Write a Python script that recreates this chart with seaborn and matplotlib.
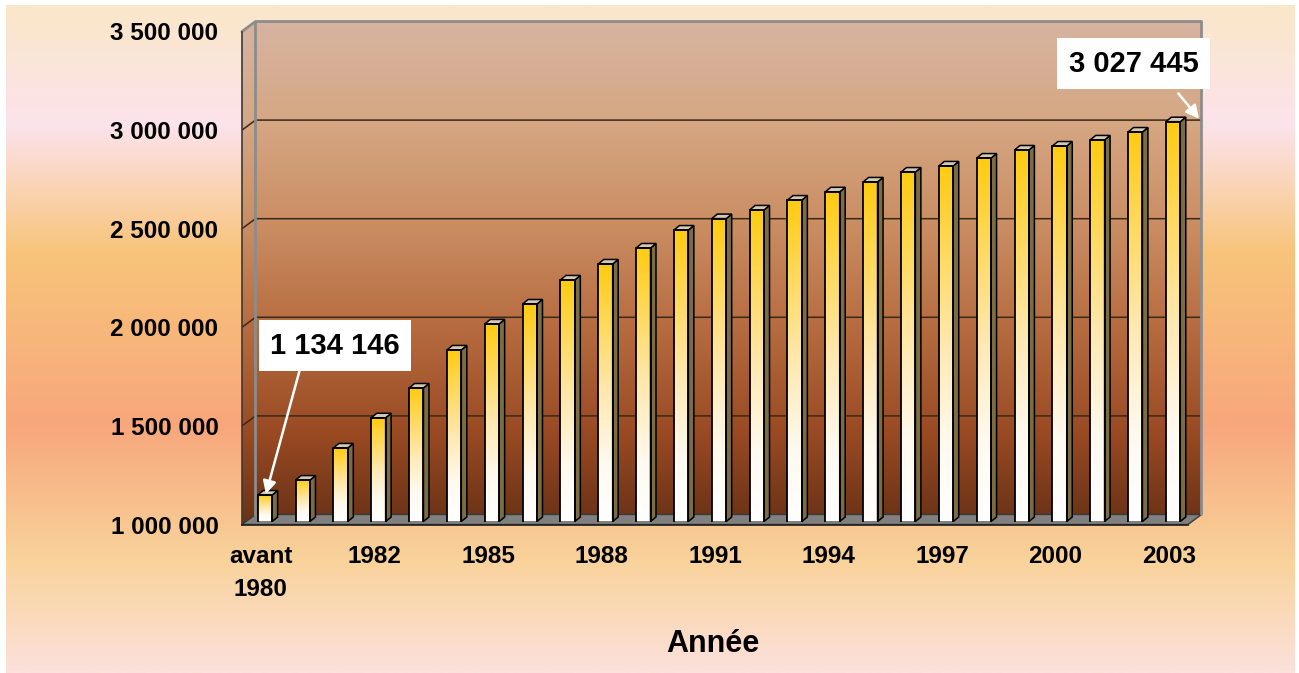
import numpy as np
import pandas as pd
import matplotlib
matplotlib.use("Agg")
import matplotlib.pyplot as plt
import matplotlib.transforms as mtransforms
from matplotlib.colors import LinearSegmentedColormap
from matplotlib.patches import Polygon
import seaborn as sns

# ---- data -------------------------------------------------------------
categories = ["avant\n1980"] + [str(y) for y in range(1980, 2004)]
values = [1134146, 1210000, 1373000, 1526000, 1677000, 1870000, 2002000,
          2103000, 2225000, 2306000, 2387000, 2478000, 2536000, 2580000,
          2630000, 2672000, 2722000, 2772000, 2803000, 2843000, 2884000,
          2904000, 2935000, 2975000, 3027445]
y_ticks = [1000000, 1500000, 2000000, 2500000, 3000000, 3500000]
y_tick_labels = ["1 000 000", "1 500 000", "2 000 000",
                 "2 500 000", "3 000 000", "3 500 000"]
x_label_idx = list(range(0, len(categories), 3))
callout_idx = [0, 24]
x_title = "Année"


def fmt(v):
    return f"{v:,}".replace(",", " ")


sns.set_style("white")
plt.rcParams["font.family"] = ["Liberation Sans", "DejaVu Sans"]
plt.rcParams["font.weight"] = "bold"
plt.rcParams["text.color"] = "black"
plt.rcParams["xtick.labelcolor"] = "black"
plt.rcParams["ytick.labelcolor"] = "black"

W, H = 1299, 673
fig = plt.figure(figsize=(W / 100, H / 100), dpi=100)
fig.patch.set_facecolor("white")


def rect(x0, top, x1, bottom):
    """Axes rectangle from pixel edges measured from the top-left corner."""
    return [x0 / W, (H - bottom) / H, (x1 - x0) / W, (bottom - top) / H]


FRONT = (242, 31.5, 1188, 524.5)   # front plane of the 3-D box
BACK_D = (13.5, 10.0)              # back wall offset (right, up)
BAR_D = (4.0, 3.0)                 # bars stand a little behind the front
SIDE_D = (5.5, 4.5)                # depth of each bar

# ---- page background ---------------------------------------------------
bg_cmap = LinearSegmentedColormap.from_list(
    "page", [(0.0, "#FAE7C9"), (0.18, "#FCE3EC"), (0.37, "#F8C47A"),
             (0.63, "#F7A77C"), (0.83, "#F9D29A"), (1.0, "#FCE1DC")])
ax_bg = fig.add_axes(rect(6, 5, 1295, 673), zorder=-10)
ax_bg.imshow(np.linspace(0, 1, 512)[:, None], cmap=bg_cmap, aspect="auto",
             extent=(0, 1, 0, 1), interpolation="bilinear")
ax_bg.axis("off")

# ---- decoration layer in pixel coordinates ----------------------------
ax_deco = fig.add_axes([0, 0, 1, 1], zorder=1)
ax_deco.set_xlim(0, W)
ax_deco.set_ylim(H, 0)
ax_deco.axis("off")

# ---- front axes: ticks, labels and spines ------------------------------
ax = fig.add_axes(rect(*FRONT), zorder=3)
ax.patch.set_alpha(0)
ax.set_xlim(-0.5, len(categories) - 0.5)
ax.set_ylim(y_ticks[0], y_ticks[-1])


def to_px(axes, x, y):
    dx, dy = axes.transData.transform((x, y))
    return dx, H - dy


fx0, fy0 = to_px(ax, -0.5, y_ticks[-1])
fx1, fy1 = to_px(ax, len(categories) - 0.5, y_ticks[0])
bx, by = BACK_D

# back wall + left side wall with a brown gradient
wall_cmap = LinearSegmentedColormap.from_list(
    "wall", [(0.0, "#D7B4A1"), (0.2, "#D5A783"), (0.42, "#C98B60"),
             (0.62, "#B56A3E"), (0.82, "#994A23"), (1.0, "#693216")])
wall_poly = Polygon([(fx0, fy0), (fx0 + bx, fy0 - by), (fx1 + bx, fy0 - by),
                     (fx1 + bx, fy1 - by), (fx1, fy1), (fx0, fy1)],
                    closed=True, transform=ax_deco.transData,
                    facecolor="none", edgecolor="none")
ax_deco.add_patch(wall_poly)
wall_img = ax_deco.imshow(np.linspace(0, 1, 512)[:, None], cmap=wall_cmap,
                          aspect="auto", interpolation="bilinear",
                          extent=(fx0, fx1 + bx, fy1, fy0 - by))
wall_img.set_clip_path(wall_poly)
ax_deco.set_xlim(0, W)
ax_deco.set_ylim(H, 0)

# gridlines on the back wall, joined to the front ticks
for v in y_ticks[1:-1]:
    _, yf = to_px(ax, 0, v)
    ax_deco.plot([fx0, fx0 + bx, fx1 + bx], [yf, yf - by, yf - by],
                 color="#3A2818", lw=1.1, solid_capstyle="butt")

# grey frame of the walls
ax_deco.plot([fx0, fx0 + bx, fx1 + bx, fx1 + bx],
             [fy0, fy0 - by, fy0 - by, fy1 - by], color="#8C8C8C", lw=2)
ax_deco.plot([fx0 + bx, fx0 + bx], [fy0 - by, fy1 - by], color="#8C8C8C", lw=2)

# floor
floor = Polygon([(fx0, fy1), (fx1, fy1), (fx1 + bx, fy1 - by),
                 (fx0 + bx, fy1 - by)], closed=True,
                facecolor="#808080", edgecolor="#3A3A3A", lw=1)
ax_deco.add_patch(floor)

for side in ("top", "right"):
    ax.spines[side].set_visible(False)
ax.spines["left"].set_color("#3A3A3A")
ax.spines["left"].set_linewidth(1.2)
ax.spines["bottom"].set_color("#202020")
ax.spines["bottom"].set_linewidth(1.2)

ax.set_yticks(y_ticks)
ax.set_yticklabels(y_tick_labels)
ax.tick_params(axis="y", direction="out", length=6.5, width=1.1,
               color="#333333", pad=10.5, labelsize=17.5, labelcolor="black")
ax.set_xticks(x_label_idx)
ax.set_xticklabels([categories[i] for i in x_label_idx], linespacing=1.6)
ax.set_xticks(np.arange(-0.5, len(categories), 1.0), minor=True)
ax.tick_params(axis="x", which="major", length=0, pad=14.5, labelsize=17.5,
               labelcolor="black")
ax.tick_params(axis="x", which="minor", direction="out", length=6,
               width=1.1, color="#222222")
for lab in ax.get_xticklabels() + ax.get_yticklabels():
    lab.set_fontweight("bold")
    lab.set_color("black")
ax.grid(False)

# ---- bars ---------------------------------------------------------------
ax_b = fig.add_axes(rect(FRONT[0] + BAR_D[0], FRONT[1] - BAR_D[1],
                         FRONT[2] + BAR_D[0], FRONT[3] - BAR_D[1]), zorder=4)
ax_b.patch.set_alpha(0)
df = pd.DataFrame({"Année": categories, "Valeur": values})
sns.barplot(data=df, x="Année", y="Valeur", ax=ax_b, width=0.38,
            color="#FFD21F", saturation=1, edgecolor="black",
            linewidth=1.3, errorbar=None)
ax_b.set_autoscale_on(False)
ax_b.set_xlim(-0.5, len(categories) - 0.5)
ax_b.set_ylim(y_ticks[0], y_ticks[-1])
ax_b.axis("off")

bar_cmap = LinearSegmentedColormap.from_list(
    "bar", [(0.0, "#FFFFFF"), (0.22, "#FFFAF0"), (0.5, "#FFE8B0"),
            (0.78, "#FFD857"), (1.0, "#FFCB10")])
grad = np.linspace(0, 1, 256)[:, None]
sx, sy = SIDE_D
base = y_ticks[0]
for p in list(ax_b.patches):
    x, w, h = p.get_x(), p.get_width(), p.get_height()
    p.set_facecolor("none")
    p.set_zorder(3)
    im = ax_b.imshow(grad, cmap=bar_cmap, aspect="auto", origin="lower",
                     extent=(x, x + w, base, h), zorder=2,
                     interpolation="bilinear")
    im.set_clip_path(p)
    # side and top faces, built from the bar's own corners
    ax0, ay0 = ax_b.transData.transform((x, h))
    ax1, ay1 = ax_b.transData.transform((x + w, h))
    _, ayb = ax_b.transData.transform((x + w, base))
    side = Polygon([(ax1, ayb), (ax1, ay1), (ax1 + sx, ay1 + sy),
                    (ax1 + sx, ayb + sy)], closed=True,
                   transform=mtransforms.IdentityTransform(),
                   facecolor="#7C6C45", edgecolor="black", lw=1.1, zorder=2.5)
    top = Polygon([(ax0, ay0), (ax1, ay1), (ax1 + sx, ay1 + sy),
                   (ax0 + sx, ay0 + sy)], closed=True,
                  transform=mtransforms.IdentityTransform(),
                  facecolor="#D2C9B8", edgecolor="black", lw=1.1, zorder=2.5)
    for poly in (side, top):
        ax_b.add_patch(poly)
        poly.set_clip_on(False)

# ---- value call-outs ----------------------------------------------------
callout_style = [
    dict(text_px=(335, 327.5), tip=(1, 1), relpos=(0.25, 0.0), shrinkA=0),
    dict(text_px=(1133.5, 609.5), tip=(26, 3), relpos=(0.745, 0.0), shrinkA=4),
]
for idx, st in zip(callout_idx, callout_style):
    tip_tr = mtransforms.offset_copy(ax_b.transData, fig=fig, x=st["tip"][0],
                                     y=st["tip"][1], units="dots")
    ann = ax_b.annotate(
        fmt(values[idx]), xy=(idx, values[idx]), xycoords=tip_tr,
        xytext=st["text_px"], textcoords="figure pixels",
        ha="center", va="center", fontsize=21, fontweight="bold",
        color="black", annotation_clip=False, zorder=10,
        bbox=dict(boxstyle="square,pad=0.4", fc="white", ec="none"),
        arrowprops=dict(arrowstyle="-|>,head_length=0.55,head_width=0.28",
                        color="white", lw=1.8, relpos=st["relpos"],
                        shrinkA=st["shrinkA"], shrinkB=0, mutation_scale=14))

# ---- axis title ---------------------------------------------------------
fig.text(713 / W, (H - 651.5) / H, x_title, ha="center", va="baseline",
         fontsize=22, fontweight="bold", color="black")

fig.savefig("out.png", dpi=100)
